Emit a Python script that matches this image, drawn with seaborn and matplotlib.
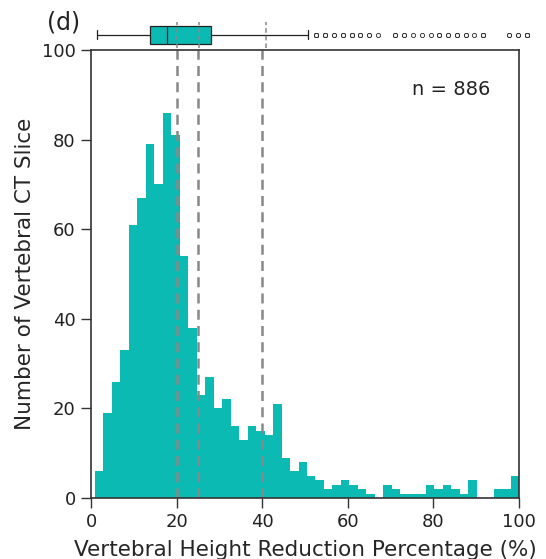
import numpy as np
import pandas as pd
import seaborn as sns
import matplotlib.pyplot as plt

# histogram counts per bin, 50 bins from ~0.9 to 100
counts = [6, 19, 26, 33, 61, 67, 79, 70, 86, 81,
          54, 38, 23, 27, 20, 22, 16, 13, 16, 15,
          14, 21, 9, 6, 8, 5, 4, 2, 3, 4,
          3, 2, 1, 0, 3, 2, 1, 1, 1, 3,
          2, 3, 2, 1, 4, 0, 0, 2, 2, 5]
bin_lo, bin_hi = 0.93, 100.0
ref_lines = [20, 25, 40]
n_total = 886

teal = "#0bbab3"
edges = np.linspace(bin_lo, bin_hi, len(counts) + 1)
centers = (edges[:-1] + edges[1:]) / 2
df = pd.DataFrame({"pct": centers, "count": counts})
# expanded samples for the box plot
samples = np.repeat(centers, counts)

sns.set_style("ticks")
plt.rcParams['font.family'] = ['DejaVu Sans']
plt.rcParams['text.color'] = '#222222'

fig = plt.figure(figsize=(5.46, 5.59), dpi=100)
ax = fig.add_axes([0.1667, 0.109, 0.7839, 0.8016])
ax_box = fig.add_axes([0.1623, 0.914, 0.811, 0.047])

sns.histplot(data=df, x="pct", weights="count", bins=len(counts),
             binrange=(bin_lo, bin_hi), color=teal,
             alpha=1, linewidth=0, ax=ax)
for v in ref_lines:
    ax.axvline(v, color="#888888", linestyle="--", linewidth=1.8, dashes=(4, 2.5))
ax.set_xlim(0, 100)
ax.set_ylim(0, 100)
ax.set_xticks(range(0, 101, 20))
ax.set_yticks(range(0, 101, 20))
ax.tick_params(labelsize=13, length=7, width=1, pad=4,
               colors="#333333", labelcolor="#222222")
for s in ax.spines.values():
    s.set_visible(True)
    s.set_linewidth(1.2)
    s.set_color("#333333")
ax.set_xlabel("Vertebral Height Reduction Percentage (%)", fontsize=15.5,
              labelpad=6)
ax.set_ylabel("Number of Vertebral CT Slice", fontsize=15.5, labelpad=5)
ax.text(0.932, 0.911, f"n = {n_total}", transform=ax.transAxes, ha="right",
        va="center", fontsize=14)

sns.boxplot(x=samples, ax=ax_box, color=teal, whis=1.6, width=0.68,
            saturation=1, linewidth=0.9, linecolor="#222222",
            flierprops=dict(marker="o", markersize=3, markerfacecolor="white",
                            markeredgecolor="#222222", markeredgewidth=0.6))
for v in ref_lines:
    ax_box.axvline(v, color="#888888", linestyle="--", linewidth=1.1, dashes=(3, 2))
ax_box.set_xlim(0, 100)
ax_box.axis("off")

fig.text(0.086, 0.959, "(d)", fontsize=17, va="center")

fig.savefig("out.png", dpi=100)
